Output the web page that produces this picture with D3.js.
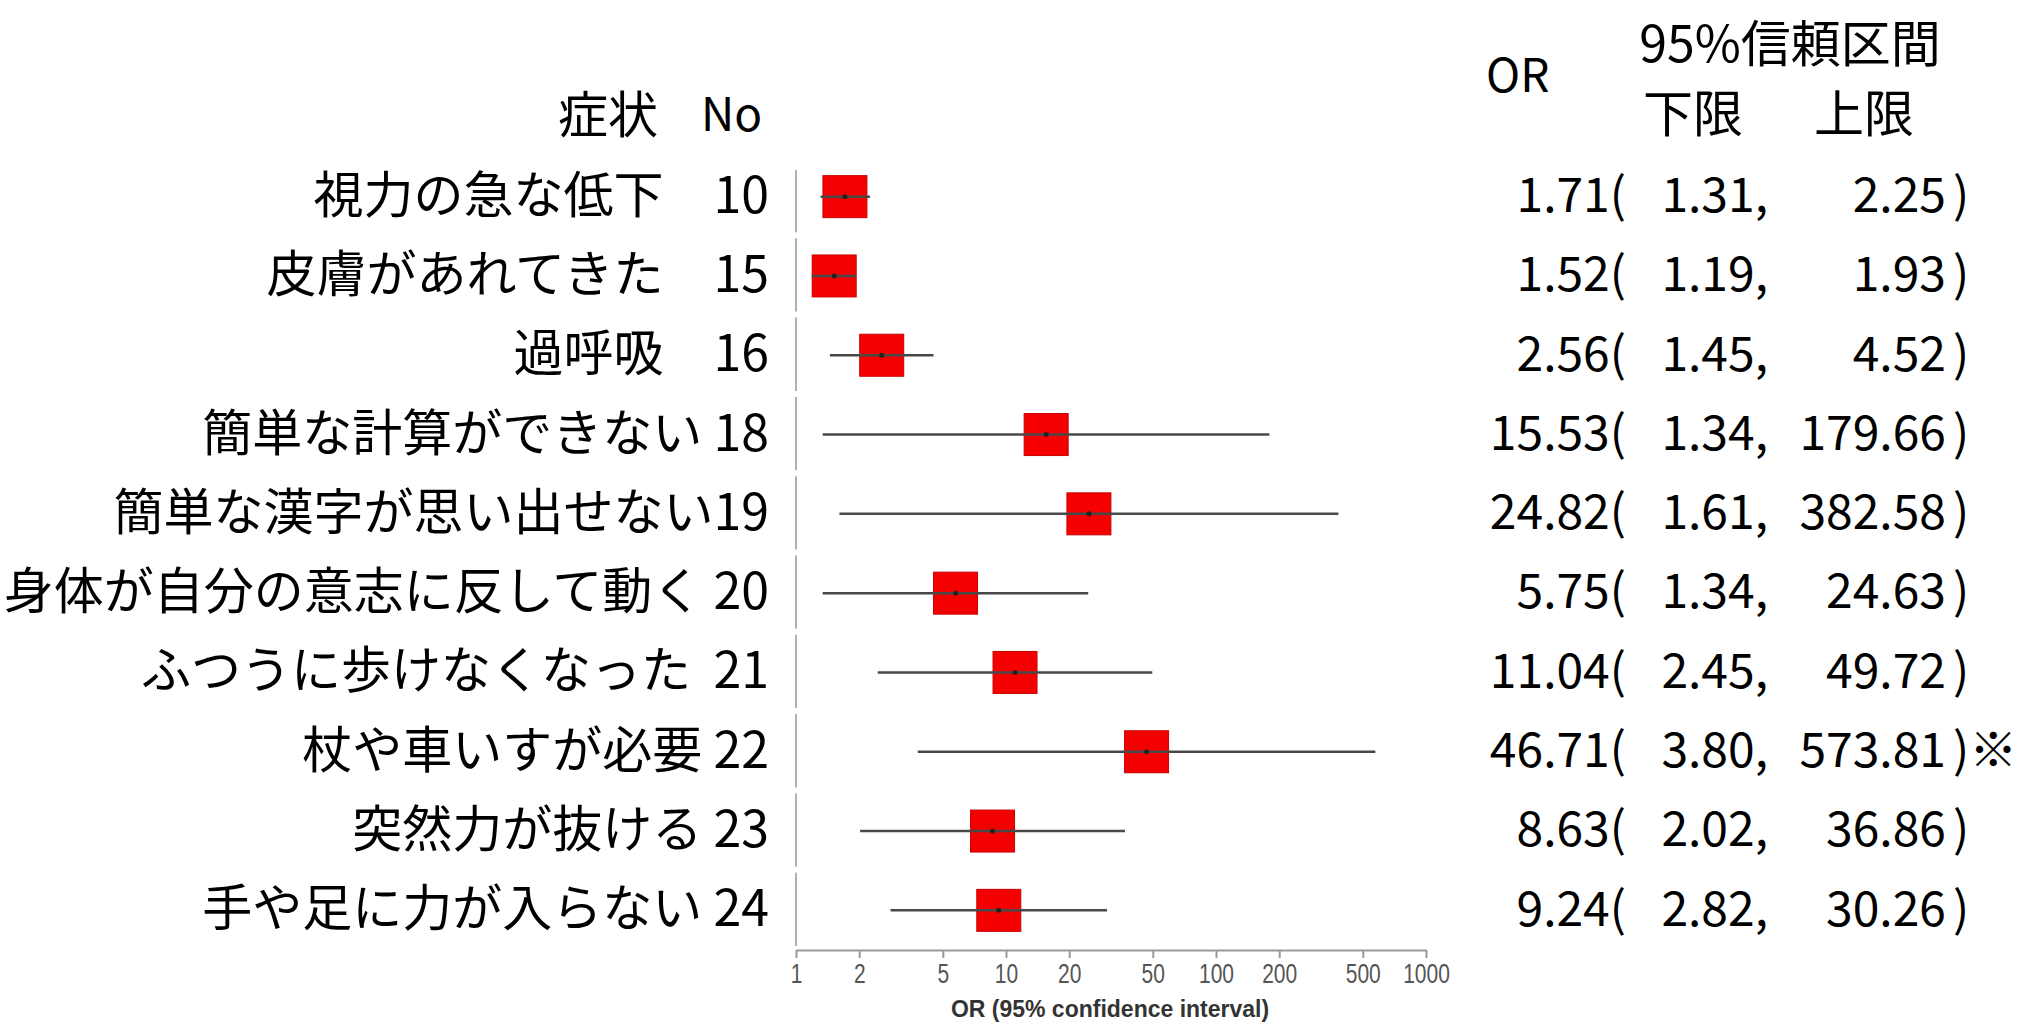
<!DOCTYPE html>
<html>
<head>
<meta charset="utf-8">
<script src="https://cdn.jsdelivr.net/npm/d3@7"></script>
<style>
  body { margin: 0; background: #fff; }
  text { font-family: "Noto Sans CJK JP", "Noto Sans", sans-serif; fill: #000; white-space: pre; }
</style>
</head>
<body>
<script>
var width = 2017;
var height = 1024;

// rows, top to bottom
var symptoms = ["視力の急な低下", "皮膚があれてきた", "過呼吸", "簡単な計算ができない",
  "簡単な漢字が思い出せない", "身体が自分の意志に反して動く", "ふつうに歩けなくなった",
  "杖や車いすが必要", "突然力が抜ける", "手や足に力が入らない"];
var nos = [10, 15, 16, 18, 19, 20, 21, 22, 23, 24];
// spacing between symptom and No as typed in the original
var spacers = ["　", "　", "　", " ", "", " ", "  ", " ", " ", " "];
var orValues = [1.71, 1.52, 2.56, 15.53, 24.82, 5.75, 11.04, 46.71, 8.63, 9.24];
var lowerCI = [1.31, 1.19, 1.45, 1.34, 1.61, 1.34, 2.45, 3.80, 2.02, 2.82];
var upperCI = [2.25, 1.93, 4.52, 179.66, 382.58, 24.63, 49.72, 573.81, 36.86, 30.26];
var notes = ["", "", "", "", "", "", "", "※", "", ""];
var tickValues = [1, 2, 5, 10, 20, 50, 100, 200, 500, 1000];

var rows = symptoms.map(function(s, i) {
  return {symptom: s, no: nos[i], spacer: spacers[i], or: orValues[i],
          lo: lowerCI[i], hi: upperCI[i], note: notes[i], i: i};
});

var svg = d3.select("body").append("svg")
  .attr("width", width)
  .attr("height", height);

var x = d3.scaleLog().domain([1, 1000]).range([796, 1426]);
var y = d3.scaleBand().domain(d3.range(rows.length)).range([157, 950]);
var cy = function(d) { return y(d.i) + y.bandwidth() / 2; };

var BOX_W = 44, BOX_H = 42;
var UP = "-0.12em"; // CJK font sits a little low with central baseline

// broken vertical line at OR = 1
svg.selectAll("line.ref")
  .data(rows)
  .enter().append("line")
  .attr("class", "ref")
  .attr("x1", x(1)).attr("x2", x(1))
  .attr("y1", function(d) { return y(d.i) + (d.i === 0 ? 13 : 2); })
  .attr("y2", function(d) { return y(d.i) + y.bandwidth() - 4; })
  .attr("stroke", "#b0b0b0")
  .attr("stroke-width", 2);

// x axis
var axis = svg.append("g")
  .attr("transform", "translate(0,950)")
  .call(d3.axisBottom(x).tickValues(tickValues).tickFormat(d3.format("d")).tickSize(8).tickSizeOuter(0));
axis.select(".domain").attr("stroke", "#999").attr("stroke-width", 2);
axis.selectAll(".tick line").attr("stroke", "#999").attr("stroke-width", 2);
// the original labels are set in a condensed face, so squeeze them a bit
axis.selectAll(".tick text")
  .attr("y", 23)
  .attr("dy", "0.35em")
  .attr("transform", "scale(0.75,1)")
  .style("font-family", "'Liberation Sans', sans-serif")
  .style("font-size", "28px")
  .style("fill", "#555");

svg.append("text")
  .attr("x", 1110).attr("y", 1009)
  .attr("text-anchor", "middle")
  .attr("dominant-baseline", "central")
  .style("font-family", "'Liberation Sans', sans-serif")
  .style("font-weight", "bold")
  .style("font-size", "23px")
  .style("fill", "#333")
  .text("OR (95% confidence interval)");

// squares
svg.selectAll("rect.box")
  .data(rows)
  .enter().append("rect")
  .attr("class", "box")
  .attr("x", function(d) { return x(d.or) - BOX_W / 2; })
  .attr("y", function(d) { return cy(d) - BOX_H / 2; })
  .attr("width", BOX_W)
  .attr("height", BOX_H)
  .attr("fill", "#f50000")
  .attr("stroke", "#c80000")
  .attr("stroke-width", 1);

// confidence intervals
svg.selectAll("line.ci")
  .data(rows)
  .enter().append("line")
  .attr("class", "ci")
  .attr("x1", function(d) { return x(d.lo); })
  .attr("x2", function(d) { return x(d.hi); })
  .attr("y1", cy).attr("y2", cy)
  .attr("stroke", "#484848")
  .attr("stroke-width", 2.5);

svg.selectAll("circle.pt")
  .data(rows)
  .enter().append("circle")
  .attr("class", "pt")
  .attr("cx", function(d) { return x(d.or); })
  .attr("cy", cy)
  .attr("r", 2.5)
  .attr("fill", "#222");

// left columns
var FS = "50px";
svg.append("text").attr("x", 658).attr("y", 117).attr("dy", UP)
  .attr("text-anchor", "end").attr("dominant-baseline", "central")
  .style("font-size", FS).text("症状");
svg.append("text").attr("x", 701).attr("y", 117).attr("dy", UP)
  .attr("dominant-baseline", "central")
  .style("font-size", "46px").text("No");

svg.selectAll("text.label")
  .data(rows)
  .enter().append("text")
  .attr("class", "label")
  .attr("x", 769)
  .attr("y", cy)
  .attr("dy", UP)
  .attr("text-anchor", "end")
  .attr("dominant-baseline", "central")
  .style("font-size", FS)
  .text(function(d) { return d.symptom + d.spacer + d.no; });

// right table
svg.append("text").attr("x", 1486).attr("y", 78).attr("dy", UP)
  .attr("dominant-baseline", "central")
  .style("font-size", "46px").text("OR");
svg.append("text").attr("x", 1790).attr("y", 40)
  .attr("text-anchor", "middle").attr("dominant-baseline", "central")
  .style("font-size", FS).text("95%信頼区間");
svg.append("text").attr("x", 1693).attr("y", 116).attr("dy", UP)
  .attr("text-anchor", "middle").attr("dominant-baseline", "central")
  .style("font-size", FS).text("下限");
svg.append("text").attr("x", 1864).attr("y", 116).attr("dy", UP)
  .attr("text-anchor", "middle").attr("dominant-baseline", "central")
  .style("font-size", FS).text("上限");

var fmt = d3.format(".2f");
var cells = svg.selectAll("g.cells")
  .data(rows)
  .enter().append("g")
  .attr("class", "cells")
  .attr("transform", function(d) { return "translate(0," + cy(d) + ")"; });

cells.append("text")
  .attr("x", 1626).attr("dy", UP).attr("text-anchor", "end").attr("dominant-baseline", "central")
  .style("font-size", "48px")
  .text(function(d) { return fmt(d.or) + "("; });
cells.append("text")
  .attr("x", 1768).attr("dy", UP).attr("text-anchor", "end").attr("dominant-baseline", "central")
  .style("font-size", "48px")
  .text(function(d) { return fmt(d.lo) + ","; });
cells.append("text")
  .attr("x", 1946).attr("dy", UP).attr("text-anchor", "end").attr("dominant-baseline", "central")
  .style("font-size", "48px")
  .text(function(d) { return fmt(d.hi); });
cells.append("text")
  .attr("x", 1953).attr("dy", UP).attr("dominant-baseline", "central")
  .style("font-size", "48px")
  .text(function(d) { return ")" + d.note; });
</script>
</body>
</html>
